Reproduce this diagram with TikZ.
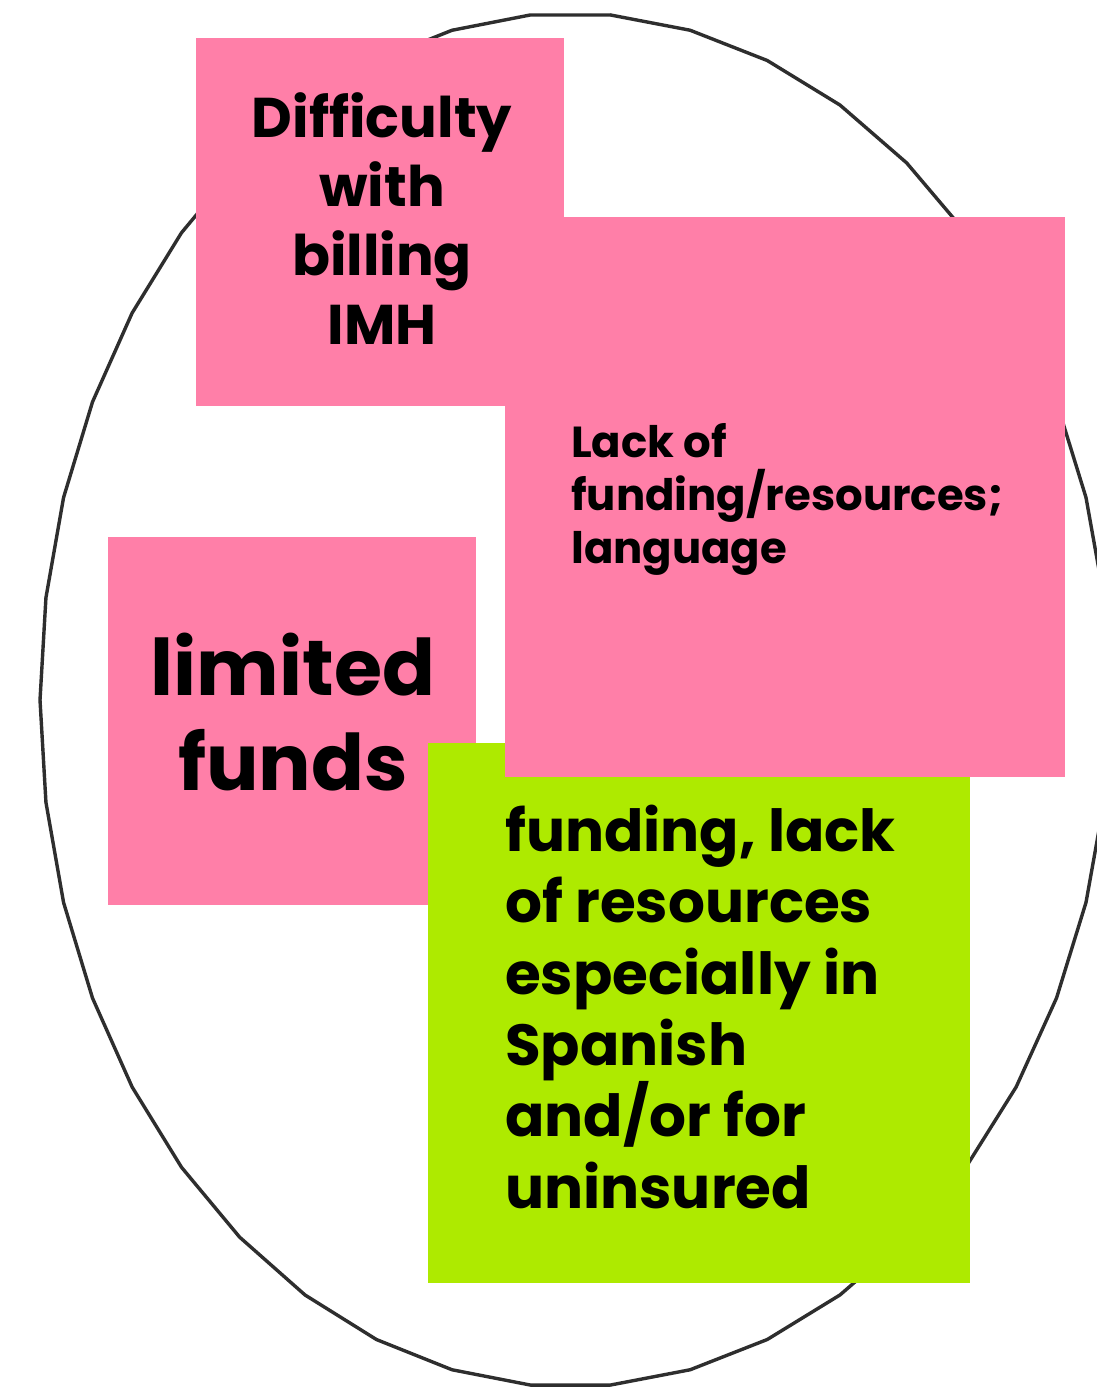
\documentclass[tikz,border=0pt]{standalone}
\usepackage{fontspec}
\setmainfont{Poppins}
\definecolor{notepink}{HTML}{FF7FA8}
\definecolor{notegreen}{HTML}{AEEA00}
\definecolor{inkline}{HTML}{2E2E2E}
\begin{document}
\begin{tikzpicture}[x=1pt,y=-1pt,
  ell/.style={draw=inkline,line width=3.4pt,line join=round},
  note/.style={draw=none,inner sep=0pt,anchor=north west},
  txt/.style={inner sep=0pt,text=black}]
\clip (0,0) rectangle (1097,1392);
\fill[white] (0,0) rectangle (1097,1392);
\draw[ell] plot[domain=-94.29:265.71,samples=43]
  ({570+(cos(\x)>0 ? 540 : 530)*cos(\x)},{700+687*sin(\x)}) -- cycle;
% notes
\node[note,fill=notepink,minimum width=368pt,minimum height=368pt] (n1) at (196,38) {};
\node[note,fill=notepink,minimum width=368pt,minimum height=368pt] (n3) at (108,537) {};
\node[note,fill=notegreen,minimum width=542pt,minimum height=540pt] (n4) at (428,743) {};
\node[note,fill=notepink,minimum width=560pt,minimum height=560pt] (n2) at (505,217) {};
% texts
\node[txt,anchor=north,align=center,font={\fontsize{56}{69}\selectfont\bfseries}] (t1) at (382,92)
  {Difficulty\\with\\billing\\IMH};
\node[txt,anchor=north west,align=left,font={\fontsize{43.4}{53}\selectfont\bfseries}] (t2) at (571,423)
  {Lack of\\funding/resources;\\language};
\node[txt,anchor=north,align=center,font={\fontsize{78}{95}\selectfont\bfseries}] (t3) at (293,633)
  {limited\\funds};
\node[txt,anchor=north west,align=left,font={\fontsize{58}{71.3}\selectfont\bfseries}] (t4) at (505,805)
  {funding, lack\\of resources\\especially in\\Spanish\\and/or for\\uninsured};
\end{tikzpicture}
\end{document}
